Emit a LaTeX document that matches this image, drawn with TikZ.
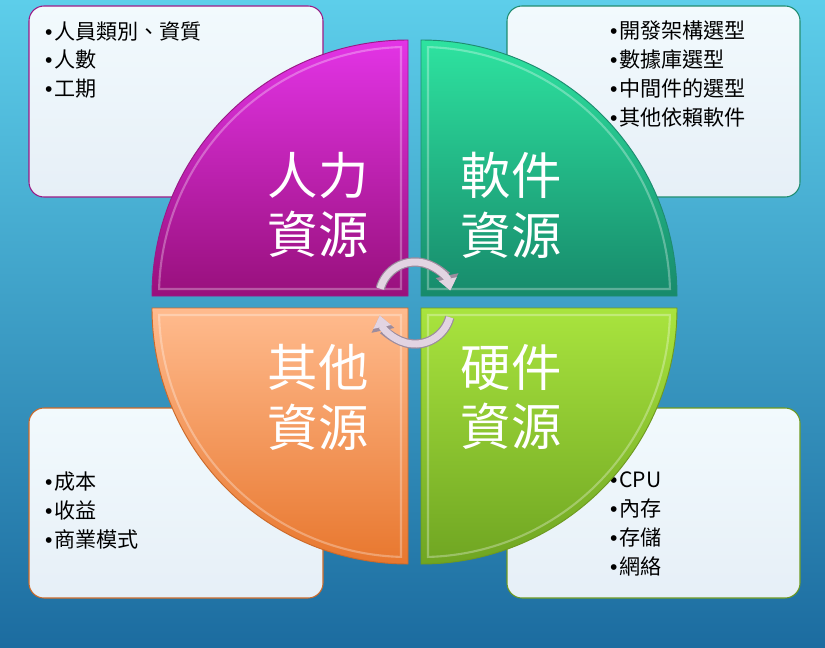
\documentclass[tikz,border=0pt]{standalone}
\usepackage{fontspec}
\setmainfont{Noto Sans CJK TC}
\newfontfamily\bulfont{Liberation Sans}
\usetikzlibrary{arrows.meta}

\definecolor{bgtop}{HTML}{5DCEEA}
\definecolor{bgbot}{HTML}{1C6CA0}
\definecolor{boxtop}{HTML}{F2FAFD}
\definecolor{boxbot}{HTML}{E6EFF7}
\definecolor{hrtop}{HTML}{E334E6}
\definecolor{hrbot}{HTML}{98107C}
\definecolor{hrline}{HTML}{9A1A86}
\definecolor{swtop}{HTML}{2EE3A0}
\definecolor{swbot}{HTML}{178A6B}
\definecolor{swline}{HTML}{1E8C70}
\definecolor{ottop}{HTML}{FFBB8E}
\definecolor{otbot}{HTML}{E8772E}
\definecolor{otline}{HTML}{CC6A2A}
\definecolor{hwtop}{HTML}{A9E43E}
\definecolor{hwbot}{HTML}{6FA522}
\definecolor{hwline}{HTML}{6E9A20}
\definecolor{arcfill}{HTML}{E2D4E2}
\definecolor{arcline}{HTML}{9C8C9E}

\newcommand{\itm}{{\bulfont\char"2022}\hspace{1.5pt}}

\begin{document}
\begin{tikzpicture}[x=0.03cm,y=-0.03cm]
\tikzstyle{infobox} = [line width=0.9pt, rounded corners=0.45cm,
top color=boxtop, bottom color=boxbot]
\tikzstyle{quarter} = [line width=0.8pt]
\tikzstyle{bevel} = [draw=white, line width=1.8pt, opacity=0.3]
\tikzstyle{itemlist} = [anchor=north west, inner sep=0pt, align=left,
font=\fontsize{18}{24.7}\selectfont, text=black]
\tikzstyle{biglabel} = [align=center, inner sep=0pt, text=white,
font=\fontsize{43}{51}\selectfont]
\tikzstyle{cycout} = [draw=arcline, line width=8pt, -{Triangle[length=13pt,width=19pt]}]
\tikzstyle{cycin} = [draw=arcfill, line width=6pt, -{Triangle[length=10pt,width=15pt]}]

\useasboundingbox (0,0) rectangle (825,647);
\fill[top color=bgtop, bottom color=bgbot] (0,0) rectangle (825,647);

% boxes
\draw[infobox, draw=hrline] (29,6) rectangle (323,197);
\draw[infobox, draw=swline] (507,6) rectangle (800,197);
\draw[infobox, draw=otline] (29,408) rectangle (323,598);
\draw[infobox, draw=hwline] (507,408) rectangle (800,598);

\node[itemlist] (hrlist) at (45,21) {\itm 人員類別、資質\\\itm 人數\\\itm 工期};
\node[itemlist] (swlist) at (610,21) {\itm 開發架構選型\\\itm 數據庫選型\\\itm 中間件的選型\\\itm 其他依賴軟件};
\node[itemlist] (otlist) at (45,472) {\itm 成本\\\itm 收益\\\itm 商業模式};
\node[itemlist] (hwlist) at (610,472) {\itm CPU\\\itm 內存\\\itm 存儲\\\itm 網絡};

% quarters
\draw[quarter, top color=hrtop, bottom color=hrbot, draw=hrline]
  (408,296) -- (152,296) arc[start angle=180, end angle=270, radius=256] -- cycle;
\draw[quarter, top color=swtop, bottom color=swbot, draw=swline]
  (421,296) -- (421,40) arc[start angle=270, end angle=360, radius=256] -- cycle;
\draw[quarter, top color=ottop, bottom color=otbot, draw=otline]
  (408,308) -- (408,564) arc[start angle=90, end angle=180, radius=256] -- cycle;
\draw[quarter, top color=hwtop, bottom color=hwbot, draw=hwline]
  (421,308) -- (677,308) arc[start angle=0, end angle=90, radius=256] -- cycle;

\draw[bevel] (401,289) -- (159.1,289) arc[start angle=181.6, end angle=268.4, radius=249] -- cycle;
\draw[bevel] (428,289) -- (428,47.1) arc[start angle=271.6, end angle=358.4, radius=249] -- cycle;
\draw[bevel] (401,315) -- (401,556.9) arc[start angle=91.6, end angle=178.4, radius=249] -- cycle;
\draw[bevel] (428,315) -- (669.9,315) arc[start angle=1.6, end angle=88.4, radius=249] -- cycle;

\node[biglabel] (hr) at (318,205) {人力\\資源};
\node[biglabel] (sw) at (511,205) {軟件\\資源};
\node[biglabel] (ot) at (318,397) {其他\\資源};
\node[biglabel] (hw) at (511,397) {硬件\\資源};

% cycle arrows
\coordinate (cyctop) at (415,298);
\coordinate (cycbot) at (415,308);
\draw[cycout] (cyctop) ++(-165:36) arc[start angle=-165, end angle=-12, radius=36];
\draw[cycin] (cyctop) ++(-165:36) arc[start angle=-165, end angle=-12, radius=36];
\draw[cycout] (cycbot) ++(15:36) arc[start angle=15, end angle=168, radius=36];
\draw[cycin] (cycbot) ++(15:36) arc[start angle=15, end angle=168, radius=36];
\end{tikzpicture}
\end{document}
